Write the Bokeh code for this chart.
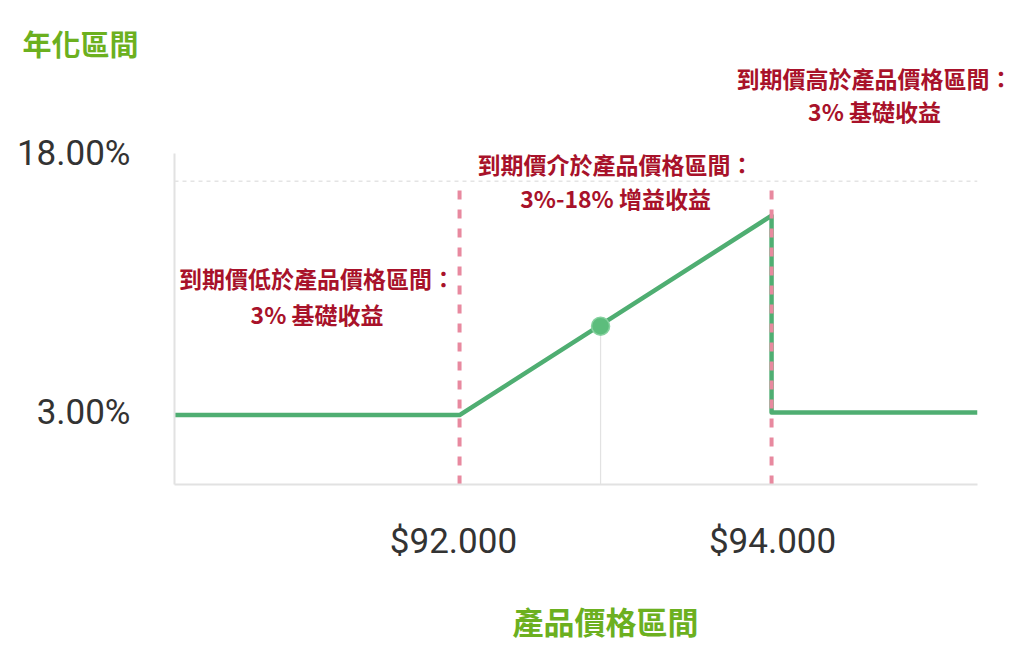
from bokeh.plotting import figure
from bokeh.models import Range1d, FixedTicker, Span
from bokeh.core.properties import value
from bokeh.embed import file_html
from bokeh.resources import INLINE

# ---- data ----
price = [90251, 92038, 93994, 93994, 95285]          # product price (x)
rate = [2.85, 2.85, 14.4, 3.0, 3.0]                   # annualised yield % (y)
range_bounds = [92038, 93994]                          # product price interval
cap_level = 16.4                                       # dashed reference level
spot_price = [92922]
spot_rate = [8.0]
x_ticks = [92000, 94000]
x_tick_labels = ["$92.000", "$94.000"]
y_ticks = [3, 18]
y_tick_labels = ["3.00%", "18.00%"]
region_titles = ["到期價低於產品價格區間：", "到期價介於產品價格區間：", "到期價高於產品價格區間："]
region_subtitles = ["3% 基礎收益", "3%-18% 增益收益", "3% 基礎收益"]
y_title = "年化區間"
x_title = "產品價格區間"

X0, X1 = 90251, 95285
Y0, Y1 = -1.17, 18.0

# page-pixel geometry of the frame (used only to place free texts)
FL, FR, FT, FB = 174, 977, 153, 484


def xd(px):
    return X0 + (px - FL) / (FR - FL) * (X1 - X0)


def yd(py):
    return Y1 - (py - FT) / (FB - FT) * (Y1 - Y0)


GREEN_TXT = "#6cb01f"
RED_TXT = "#a8122a"
LINE_GREEN = "#4fae72"
PINK = "#e8899f"
CJK = "Noto Sans CJK TC"

p = figure(width=1016, height=654, output_backend="svg", toolbar_location=None,
           x_range=Range1d(X0, X1), y_range=Range1d(Y0, Y1),
           min_border_left=174, min_border_right=39,
           min_border_top=153, min_border_bottom=170)
p.title = None
p.outline_line_color = None
p.xgrid.visible = False
p.ygrid.visible = False
p.background_fill_color = "white"
p.border_fill_color = "white"

# axes
for ax in (p.xaxis[0], p.yaxis[0]):
    ax.axis_line_color = "#e2e2e2"
    ax.axis_line_width = 2
    ax.major_tick_line_color = None
    ax.minor_tick_line_color = None
    ax.major_label_text_font = "Roboto"
    ax.major_label_text_font_size = "35px"
    ax.major_label_text_color = "#333333"

p.xaxis.ticker = FixedTicker(ticks=x_ticks)
p.xaxis.major_label_overrides = {t: l for t, l in zip(x_ticks, x_tick_labels)}
p.xaxis.major_label_standoff = 30

p.yaxis.ticker = FixedTicker(ticks=y_ticks)
p.yaxis.major_label_overrides = {t: l for t, l in zip(y_ticks, y_tick_labels)}
p.yaxis.major_label_standoff = 38

# dashed reference level
p.add_layout(Span(location=cap_level, dimension="width", line_color="#e4e4e4",
                  line_width=1.5, line_dash="4 4"))

# drop line from the spot marker
p.segment(x0=spot_price, y0=[Y0] * len(spot_price), x1=spot_price, y1=spot_rate,
          line_color="#e2e2e2", line_width=1.2)

# payoff line
p.line(price, rate, line_color=LINE_GREEN, line_width=4.5, line_join="round")

# product interval bounds (drawn over the payoff line)
p.segment(x0=range_bounds, y0=[Y0] * 2, x1=range_bounds, y1=[cap_level] * 2,
          line_color=PINK, line_width=4, line_dash="9 10")

p.scatter(spot_price, spot_rate, size=18, fill_color="#5cbd7c",
          line_color="#86d19f", line_width=1.5)

# region annotations
mids = [(X0 + range_bounds[0]) / 2, (range_bounds[0] + range_bounds[1]) / 2,
        (range_bounds[1] + X1) / 2]
rows = [(277, 313), (163, 197), (77, 110)]
tx, ty, tt = [], [], []
for m, (r1, r2), t1, t2 in zip(mids, rows, region_titles, region_subtitles):
    tx += [m, m]
    ty += [yd(r1), yd(r2)]
    tt += [t1, t2]
p.text(x=tx, y=ty, text=tt, text_align="center", text_baseline="middle",
       text_font=value(CJK), text_font_style="bold", text_font_size="23px",
       text_color=RED_TXT, level="overlay")

# axis titles
p.text(x=[xd(22)], y=[yd(42)], text=[y_title], text_align="left",
       text_baseline="middle", text_font=value(CJK), text_font_style="bold",
       text_font_size="29px", text_color=GREEN_TXT, level="overlay")
p.text(x=[xd(605)], y=[yd(620)], text=[x_title], text_align="center",
       text_baseline="middle", text_font=value(CJK), text_font_style="bold",
       text_font_size="31px", text_color=GREEN_TXT, level="overlay")

open("out.html", "w").write(file_html(p, INLINE))
